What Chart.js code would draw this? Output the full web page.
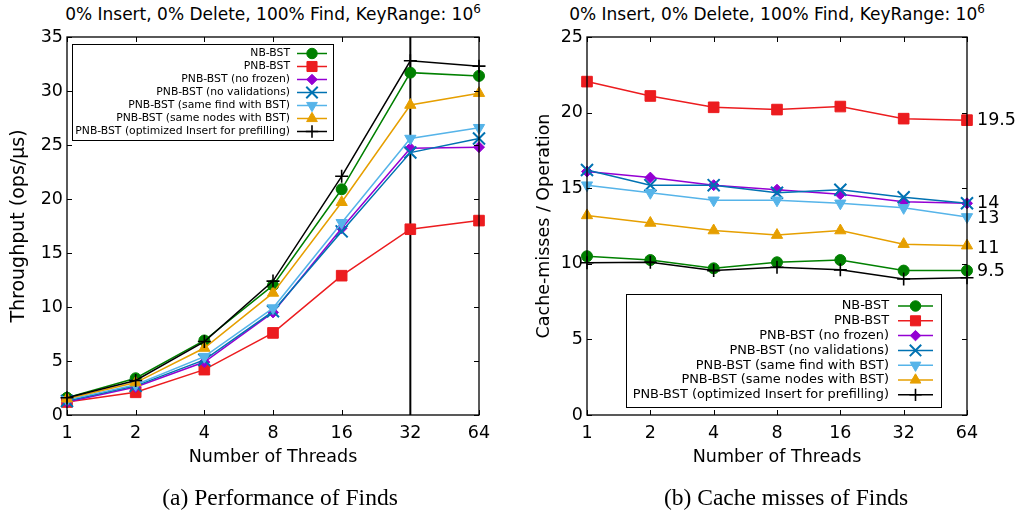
<!DOCTYPE html>
<html>
<head>
<meta charset="utf-8">
<script src="https://cdn.jsdelivr.net/npm/chart.js@4.4.1/dist/chart.umd.min.js"></script>
<style>
  body { margin: 0; background: #fff; width: 1021px; height: 518px; overflow: hidden; position: relative; font-family: "DejaVu Sans", sans-serif; }
  canvas { position: absolute; top: 0; }
  .title { position: absolute; top: 3px; font-size: 17px; line-height: 22px; text-align: center; color: #000; white-space: nowrap; }
  .title sup { font-size: 12px; vertical-align: 0; position: relative; top: -7px; }
  .caption { position: absolute; top: 482px; font-family: "Liberation Serif", "DejaVu Serif", serif; font-size: 23.5px; line-height: 30px; text-align: center; color: #000; white-space: nowrap; }
</style>
</head>
<body>
<div class="title" style="left:0; width:546px;">0% Insert, 0% Delete, 100% Find, KeyRange: 10<sup>6</sup></div>
<div class="title" style="left:504px; width:546px;">0% Insert, 0% Delete, 100% Find, KeyRange: 10<sup>6</sup></div>
<canvas id="perfChart" width="510" height="518" style="left:0; width:510px; height:518px;"></canvas>
<canvas id="cacheChart" width="511" height="518" style="left:510px; width:511px; height:518px;"></canvas>
<div class="caption" style="left:80px; width:400px;">(a) Performance of Finds</div>
<div class="caption" style="left:586px; width:400px;">(b) Cache misses of Finds</div>

<script>
(function () {
    'use strict';

    const threads = ['1', '2', '4', '8', '16', '32', '64'];
    const seriesNames = [
        'NB-BST',
        'PNB-BST',
        'PNB-BST (no frozen)',
        'PNB-BST (no validations)',
        'PNB-BST (same find with BST)',
        'PNB-BST (same nodes with BST)',
        'PNB-BST (optimized Insert for prefilling)'
    ];

    // (a) throughput, ops/us
    const nbThroughput        = [1.6, 3.4, 6.9, 12.0, 20.9, 31.7, 31.4];
    const pnbThroughput       = [1.2, 2.1, 4.2, 7.6, 12.9, 17.2, 18.0];
    const noFrozenThroughput  = [1.2, 2.6, 4.9, 9.5, 17.3, 24.7, 24.8];
    const noValidThroughput   = [1.3, 2.7, 5.1, 9.6, 17.0, 24.3, 25.6];
    const sameFindThroughput  = [1.4, 2.8, 5.4, 9.9, 17.8, 25.6, 26.6];
    const sameNodesThroughput = [1.5, 3.0, 6.2, 11.3, 19.7, 28.7, 29.8];
    const optInsertThroughput = [1.6, 3.2, 6.8, 12.4, 22.1, 32.8, 32.3];
    const perfTicks = [0, 5, 10, 15, 20, 25, 30, 35];
    const coreCountThreads = '32';

    // (b) cache misses per operation
    const nbMisses        = [10.5, 10.25, 9.7, 10.1, 10.25, 9.55, 9.55];
    const pnbMisses       = [22.05, 21.1, 20.35, 20.2, 20.4, 19.6, 19.5];
    const noFrozenMisses  = [16.1, 15.7, 15.2, 14.9, 14.6, 14.1, 14.0];
    const noValidMisses   = [16.2, 15.2, 15.2, 14.7, 14.9, 14.4, 14.0];
    const sameFindMisses  = [15.2, 14.7, 14.2, 14.2, 14.0, 13.7, 13.1];
    const sameNodesMisses = [13.2, 12.7, 12.2, 11.9, 12.2, 11.3, 11.2];
    const optInsertMisses = [10.07, 10.1, 9.55, 9.77, 9.6, 9.0, 9.08];
    const cacheTicks = [0, 5, 10, 15, 20, 25];
    const endLabelTexts  = ['19.5', '14', '13', '11', '9.5'];
    const endLabelValues = [19.5, 14, 13, 11, 9.5];

    const FONT = '"DejaVu Sans", sans-serif';

    const styles = [
        { color: '#008000', pointStyle: 'circle',   radius: 5.5, rotation: 0,   border: 1 },
        { color: '#ec1c1f', pointStyle: 'rect',     radius: 7.5, rotation: 0,   border: 1 },
        { color: '#9400d3', pointStyle: 'rectRot',  radius: 5.5, rotation: 0,   border: 1 },
        { color: '#0072b2', pointStyle: 'crossRot', radius: 8.5, rotation: 0,   border: 2 },
        { color: '#56b4e9', pointStyle: 'triangle', radius: 6.5, rotation: 180, border: 1 },
        { color: '#e69f00', pointStyle: 'triangle', radius: 6.5, rotation: 0,   border: 1 },
        { color: '#000000', pointStyle: 'cross',    radius: 6.5, rotation: 0,   border: 1.6 }
    ];

    function makeDatasets(lists) {
        return lists.map((data, i) => ({
            label: seriesNames[i],
            data: data,
            borderColor: styles[i].color,
            backgroundColor: styles[i].color,
            borderWidth: 1.5,
            pointStyle: styles[i].pointStyle,
            pointRadius: styles[i].radius,
            pointRotation: styles[i].rotation,
            pointBorderWidth: styles[i].border,
            pointBackgroundColor: styles[i].color,
            pointBorderColor: styles[i].color,
            tension: 0,
            fill: false,
            order: lists.length - i
        }));
    }

    // box + inward ticks on all four sides, like the original plots
    const frameTicks = {
        id: 'frameTicks',
        afterDatasetsDraw(chart) {
            const { ctx, chartArea: a, scales } = chart;
            const len = 5;
            ctx.save();
            ctx.strokeStyle = '#000';
            ctx.lineWidth = 1;
            ctx.beginPath();
            scales.x.ticks.forEach((t, i) => {
                const x = Math.round(scales.x.getPixelForTick(i)) + 0.5;
                ctx.moveTo(x, a.bottom); ctx.lineTo(x, a.bottom - len);
                ctx.moveTo(x, a.top); ctx.lineTo(x, a.top + len);
            });
            scales.y.ticks.forEach((t, i) => {
                const y = Math.round(scales.y.getPixelForTick(i)) + 0.5;
                ctx.moveTo(a.left, y); ctx.lineTo(a.left + len, y);
                ctx.moveTo(a.right, y); ctx.lineTo(a.right - len, y);
            });
            ctx.stroke();
            ctx.lineWidth = 1.3;
            ctx.strokeRect(a.left, a.top, a.right - a.left, a.bottom - a.top);
            ctx.restore();
        }
    };

    // legend in the matplotlib layout: right-aligned text, sample on the right
    const boxLegend = {
        id: 'boxLegend',
        afterDatasetsDraw(chart, args, opts) {
            if (!opts || !opts.box) return;
            const { ctx } = chart;
            const [x1, y1, x2, y2] = opts.box;
            ctx.save();
            ctx.fillStyle = '#fff';
            ctx.fillRect(x1, y1, x2 - x1, y2 - y1);
            ctx.strokeStyle = '#000';
            ctx.lineWidth = 1;
            ctx.strokeRect(x1 + 0.5, y1 + 0.5, x2 - x1, y2 - y1);
            ctx.font = opts.fontSize + 'px ' + FONT;
            ctx.textAlign = 'right';
            ctx.textBaseline = 'middle';
            chart.data.datasets.forEach((ds, i) => {
                const y = opts.firstRow + i * opts.rowGap;
                ctx.fillStyle = '#000';
                ctx.fillText(ds.label, opts.textRight, y);
                ctx.strokeStyle = ds.borderColor;
                ctx.lineWidth = 1.5;
                ctx.beginPath();
                ctx.moveTo(opts.lineFrom, y);
                ctx.lineTo(opts.lineTo, y);
                ctx.stroke();
                ctx.fillStyle = ds.pointBackgroundColor;
                ctx.lineWidth = ds.pointBorderWidth;
                Chart.helpers.drawPoint(ctx, {
                    pointStyle: ds.pointStyle,
                    rotation: ds.pointRotation,
                    radius: ds.pointRadius * 0.95,
                    borderWidth: ds.pointBorderWidth
                }, (opts.lineFrom + opts.lineTo) / 2, y);
            });
            ctx.restore();
        }
    };

    const coreLine = {
        id: 'coreLine',
        beforeDatasetsDraw(chart, args, opts) {
            if (!opts || opts.at == null) return;
            const { ctx, scales } = chart;
            const x = scales.x.getPixelForValue(threads.indexOf(opts.at));
            ctx.save();
            ctx.strokeStyle = '#000';
            ctx.lineWidth = 2;
            ctx.beginPath();
            ctx.moveTo(x, scales.y.getPixelForValue(scales.y.min));
            ctx.lineTo(x, scales.y.getPixelForValue(scales.y.max));
            ctx.stroke();
            ctx.restore();
        }
    };

    const endLabels = {
        id: 'endLabels',
        afterDraw(chart, args, opts) {
            if (!opts || !opts.texts) return;
            const { ctx, chartArea: a, scales } = chart;
            ctx.save();
            ctx.fillStyle = '#000';
            ctx.font = '17.5px ' + FONT;
            ctx.textAlign = 'left';
            ctx.textBaseline = 'middle';
            opts.texts.forEach((t, i) => {
                ctx.fillText(t, a.right + 10, scales.y.getPixelForValue(opts.values[i]));
            });
            ctx.restore();
        }
    };

    function buildChart(id, lists, cfg) {
        const ctx = document.getElementById(id);
        return new Chart(ctx, {
            type: 'line',
            data: { labels: threads, datasets: makeDatasets(lists) },
            options: {
                responsive: false,
                animation: false,
                devicePixelRatio: 1,
                layout: { padding: { left: 0, top: 37, right: cfg.rightPad, bottom: 50 } },
                plugins: {
                    legend: { display: false },
                    tooltip: { enabled: false },
                    boxLegend: cfg.legend,
                    coreLine: { at: cfg.coreAt },
                    endLabels: cfg.endLabels || {}
                },
                scales: {
                    x: {
                        type: 'category',
                        offset: false,
                        grid: { display: false, drawTicks: false },
                        border: { display: false },
                        ticks: { color: '#000', font: { family: FONT, size: 17.5 }, padding: 8, maxRotation: 0, autoSkip: false },
                        title: { display: true, text: 'Number of Threads', color: '#000', font: { family: FONT, size: 17.5 }, padding: { top: 0, bottom: 0 } },
                        afterFit(scale) { scale.height = 53; }
                    },
                    y: {
                        min: 0,
                        max: cfg.ticks[cfg.ticks.length - 1],
                        afterBuildTicks(scale) { scale.ticks = cfg.ticks.map(v => ({ value: v })); },
                        grid: { display: false, drawTicks: false },
                        border: { display: false },
                        ticks: { color: '#000', font: { family: FONT, size: 17.5 }, padding: 4 },
                        title: { display: true, text: cfg.yTitle, color: '#000', font: { family: FONT, size: cfg.yTitleSize }, padding: { top: cfg.yTitlePad, bottom: 0 } },
                        afterFit(scale) { scale.width = cfg.yWidth; }
                    }
                }
            },
            plugins: [coreLine, frameTicks, boxLegend, endLabels]
        });
    }

    buildChart('perfChart',
        [nbThroughput, pnbThroughput, noFrozenThroughput, noValidThroughput,
         sameFindThroughput, sameNodesThroughput, optInsertThroughput],
        {
            ticks: perfTicks,
            yTitle: 'Throughput (ops/\u00b5s)',
            yTitleSize: 19,
            yWidth: 67,
            yTitlePad: 8,
            rightPad: 31,
            coreAt: coreCountThreads,
            legend: { box: [72, 44, 333, 140], fontSize: 10.8, firstRow: 53.5, rowGap: 13, textRight: 290, lineFrom: 297, lineTo: 327 }
        });

    buildChart('cacheChart',
        [nbMisses, pnbMisses, noFrozenMisses, noValidMisses,
         sameFindMisses, sameNodesMisses, optInsertMisses],
        {
            ticks: cacheTicks,
            yTitle: 'Cache-misses / Operation',
            yTitleSize: 17.5,
            yWidth: 77,
            yTitlePad: 24,
            rightPad: 54,
            coreAt: null,
            legend: { box: [116, 294, 431, 407], fontSize: 12.9, firstRow: 306, rowGap: 14.8, textRight: 379, lineFrom: 388, lineTo: 423 },
            endLabels: { texts: endLabelTexts, values: endLabelValues }
        });
})();
</script>
</body>
</html>
